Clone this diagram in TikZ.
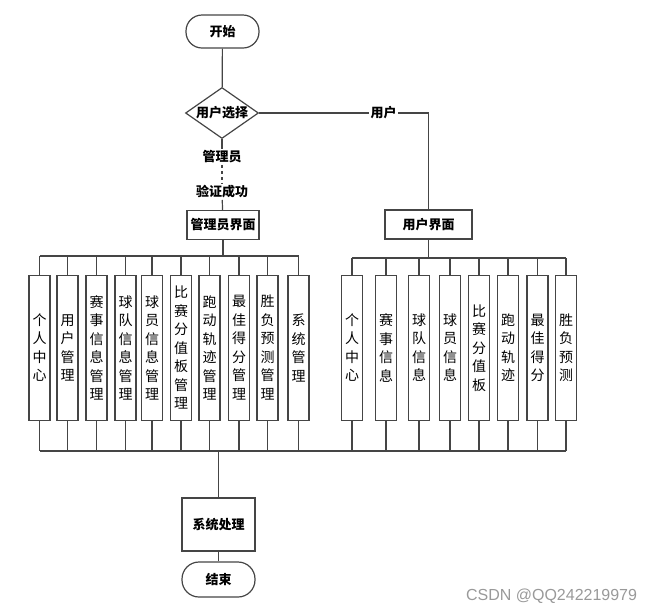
\documentclass[tikz,border=0pt]{standalone}
\usepackage{fontspec}
\newfontfamily\cjk{Noto Sans CJK SC}
\setsansfont{Liberation Sans}
\usetikzlibrary{shapes.geometric}
\definecolor{gris}{HTML}{454545}

\begin{document}
\begin{tikzpicture}[x=1pt, y=-1pt, line width=1.2pt,
  term/.style={draw=gris, rounded corners=16pt, minimum width=73pt, minimum height=33pt, font=\cjk\bfseries\fontsize{13}{15}\selectfont},
  decision/.style={draw=gris, diamond, aspect=1.43, inner sep=0pt, minimum width=73pt, minimum height=51pt, font=\cjk\bfseries\fontsize{13}{15}\selectfont},
  caja/.style={draw=gris, fill=white, inner sep=2pt, minimum height=29pt, font=\cjk\bfseries\fontsize{13}{15}\selectfont},
  etiq/.style={inner sep=1pt, font=\cjk\bfseries\fontsize{13}{15}\selectfont},
  modulo/.style={draw=gris, fill=white, inner sep=0pt, minimum width=21pt, minimum height=145pt, align=center, font=\cjk\fontsize{14}{18.5}\selectfont}]
\useasboundingbox (0,0) rectangle (656,614);

% Inicio y seleccion
\node[term] (ini) at (222.5,31.5) {开始};
\node[decision] (sel) at (222,113) {用户选择};
\node[etiq] (adm1) at (222,157) {管理员};
\node[etiq] (ok) at (222,192) {验证成功};
\node[etiq] (usu) at (383.5,113) {用户};
\node[caja, minimum width=72pt] (adm) at (223,225) {管理员界面};
\node[caja, minimum width=87pt] (usr) at (428.5,224.5) {用户界面};

\draw[gris] (ini) -- (sel);
\draw[gris] (sel) -- (adm1);
\draw[gris, dashed] (adm1) -- (ok);
\draw[gris] (ok) -- (adm);
\draw[gris] (sel) -- (usu);
\draw[gris] (usu) -| (usr);

% Buses
\coordinate (busA) at (adm.south |- 0,256);
\coordinate (busB) at (usr.south |- 0,258);
\coordinate (busC) at (218.5,451);

% Modulos del administrador
\foreach \x/\txt [count=\i] in {39.5/{个\\人\\中\\心}, 67.5/{用\\户\\管\\理},
    96.5/{赛\\事\\信\\息\\管\\理}, 125.5/{球\\队\\信\\息\\管\\理},
    152/{球\\员\\信\\息\\管\\理}, 181/{比\\赛\\分\\值\\板\\管\\理},
    209.5/{跑\\动\\轨\\迹\\管\\理}, 239/{最\\佳\\得\\分\\管\\理},
    267.5/{胜\\负\\预\\测\\管\\理}, 298.5/{系\\统\\管\\理}}
  \node[modulo] (L\i) at (\x,347.75) {\txt};

% Modulos del usuario
\foreach \x/\txt [count=\i] in {352/{个\\人\\中\\心}, 386/{赛\\事\\信\\息},
    419/{球\\队\\信\\息}, 450/{球\\员\\信\\息}, 479/{比\\赛\\分\\值\\板},
    508/{跑\\动\\轨\\迹}, 537.5/{最\\佳\\得\\分}, 566/{胜\\负\\预\\测}}
  \node[modulo] (R\i) at (\x,347.75) {\txt};

\foreach \i in {1,...,10}
  \draw[gris] (L\i.north) -- (L\i.north |- busA) (L\i.south) -- (L\i.south |- busC);
\foreach \i in {1,...,8}
  \draw[gris] (R\i.north) -- (R\i.north |- busB) (R\i.south) -- (R\i.south |- busC);
\draw[gris] (adm) -- (busA);
\draw[gris] (usr) -- (busB);
\draw[gris] (L1.north |- busA) -- (L10.north |- busA);
\draw[gris] (R1.north |- busB) -- (R8.north |- busB);
\draw[gris] (L1.south |- busC) -- (R8.south |- busC);

% Fin
\node[caja, minimum width=73pt, minimum height=53pt] (sis) at (218.5,524.5) {系统处理};
\node[term, minimum height=35pt, rounded corners=17pt] (fin) at (218.5,579.5) {结束};
\draw[gris] (busC) -- (sis);
\draw[gris] (sis) -- (fin);

\node[font=\sffamily\fontsize{16}{18}\selectfont, text=black!40, anchor=east] (marca) at (641,596) {CSDN @QQ242219979};
\end{tikzpicture}
\end{document}
